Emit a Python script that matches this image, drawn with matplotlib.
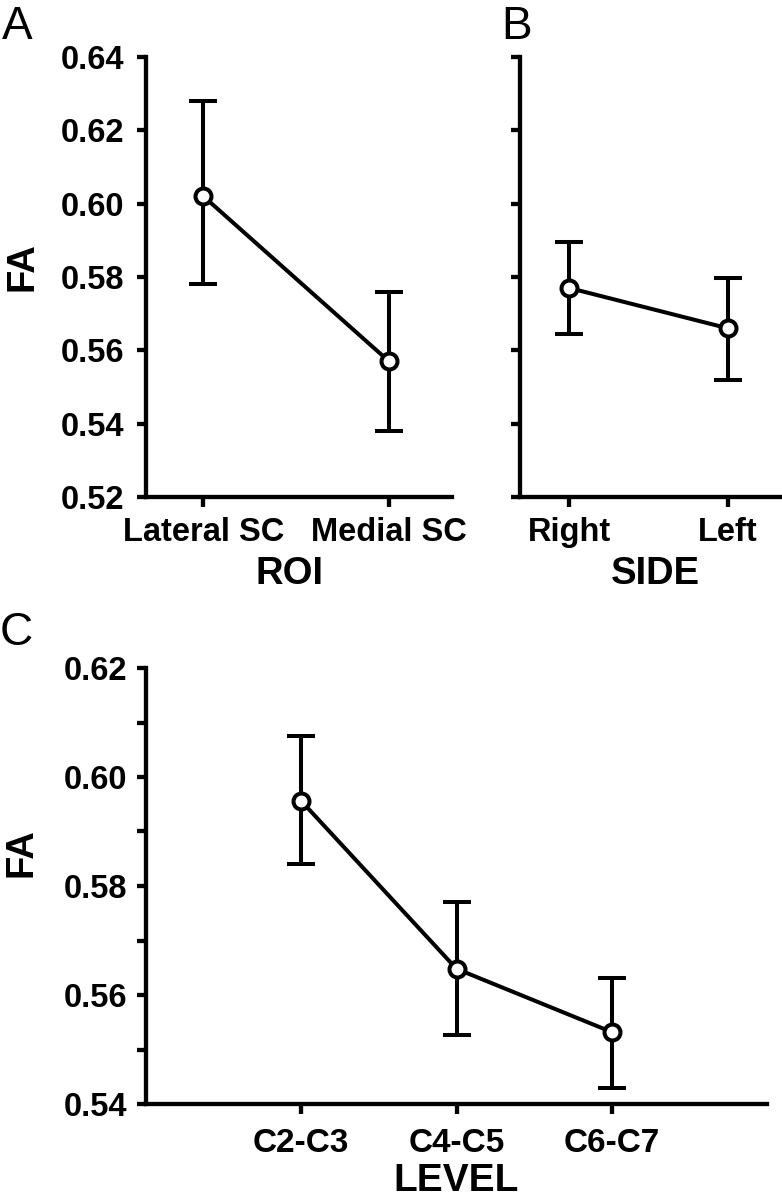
import matplotlib
matplotlib.use("Agg")
import matplotlib.pyplot as plt
from matplotlib import font_manager as fm
from matplotlib.ticker import MultipleLocator

# ---------------- data ----------------
roi_cats = ["Lateral SC", "Medial SC"]
roi_mean = [0.602, 0.557]
roi_upper = [0.628, 0.576]
roi_lower = [0.578, 0.538]

side_cats = ["Right", "Left"]
side_mean = [0.577, 0.566]
side_upper = [0.5895, 0.5797]
side_lower = [0.5645, 0.5520]

level_cats = ["C2-C3", "C4-C5", "C6-C7"]
level_mean = [0.5956, 0.5648, 0.5532]
level_upper = [0.6075, 0.5770, 0.5631]
level_lower = [0.5840, 0.5527, 0.5430]

ab_yticks = [0.52, 0.54, 0.56, 0.58, 0.60, 0.62, 0.64]
c_yticks = [0.54, 0.56, 0.58, 0.60, 0.62]

# ---------------- fonts ----------------
names = {f.name for f in fm.fontManager.ttflist}
SANS = "Liberation Sans" if "Liberation Sans" in names else "DejaVu Sans"
plt.rcParams["font.family"] = [SANS, "DejaVu Sans"]

W, H = 782, 1200
fig = plt.figure(figsize=(W / 100, H / 100), dpi=100)


def ax_px(l, r, top, bot):
    return fig.add_axes([l / W, 1 - bot / H, (r - l) / W, (bot - top) / H])


LW = 2.9
SPW = 3.1
TICKFS = 23.5
LABFS = 27.5


def style(ax):
    for s in ("top", "right"):
        ax.spines[s].set_visible(False)
    for s in ("left", "bottom"):
        ax.spines[s].set_linewidth(SPW)
    ax.tick_params(axis="both", which="both", direction="out", width=SPW, color="black")
    ax.tick_params(axis="y", which="both", length=6.5)
    ax.tick_params(axis="x", which="major", length=7.5)
    ax.patch.set_alpha(0)


def draw(ax, mean, upper, lower):
    x = list(range(len(mean)))
    yerr = [[m - l for m, l in zip(mean, lower)], [u - m for u, m in zip(upper, mean)]]
    ax.errorbar(x, mean, yerr=yerr, fmt="none", ecolor="black", elinewidth=LW,
                capsize=10, capthick=LW, zorder=2, clip_on=False)
    ax.plot(x, mean, color="black", lw=LW, zorder=3, clip_on=False)
    ax.plot(x, mean, "o", ms=11.5, mfc="white", mec="black", mew=2.9, zorder=4, clip_on=False)


# ---------------- Panel A ----------------
axA = ax_px(146, 452, 57, 497)
style(axA)
draw(axA, roi_mean, roi_upper, roi_lower)
axA.set_xlim(-0.31, 1.34)
axA.set_ylim(0.52, 0.64)
axA.set_yticks(ab_yticks)
axA.set_yticklabels([f"{v:.2f}" for v in ab_yticks], fontsize=TICKFS, fontweight="bold")
axA.set_xticks(range(len(roi_cats)))
axA.set_xticklabels(roi_cats, fontsize=TICKFS, fontweight="bold")
axA.tick_params(axis="x", pad=7)
axA.tick_params(axis="y", pad=9)
axA.set_xlabel("ROI", fontsize=LABFS, fontweight="bold")
axA.xaxis.set_label_coords((290 - 146) / 306, -(592 - 497) / 440)
axA.xaxis.label.set_va("bottom")
axA.set_ylabel("FA", fontsize=LABFS, fontweight="bold")
axA.yaxis.set_label_coords((40 - 146) / 306, (497 - 267) / 440)

# ---------------- Panel B ----------------
axB = ax_px(520, 782, 57, 497)
style(axB)
draw(axB, side_mean, side_upper, side_lower)
axB.set_xlim(-0.31, 1.34)
axB.set_ylim(0.52, 0.64)
axB.set_yticks(ab_yticks)
axB.set_yticklabels([])
axB.set_xticks(range(len(side_cats)))
axB.set_xticklabels(side_cats, fontsize=TICKFS, fontweight="bold")
axB.tick_params(axis="x", pad=7)
axB.set_xlabel("SIDE", fontsize=LABFS, fontweight="bold")
axB.xaxis.set_label_coords((655 - 520) / 262, -(592 - 497) / 440)
axB.xaxis.label.set_va("bottom")

# ---------------- Panel C ----------------
axC = ax_px(146, 767, 668, 1104)
style(axC)
draw(axC, level_mean, level_upper, level_lower)
axC.set_xlim(-1, 3)
axC.set_ylim(0.54, 0.62)
axC.set_yticks(c_yticks)
axC.yaxis.set_minor_locator(MultipleLocator(0.01))
axC.set_yticklabels([f"{v:.2f}" for v in c_yticks], fontsize=TICKFS, fontweight="bold")
axC.set_xticks(range(len(level_cats)))
axC.set_xticklabels(level_cats, fontsize=24, fontweight="bold")
axC.tick_params(axis="x", pad=10)
axC.tick_params(axis="y", pad=7)
axC.set_xlabel("LEVEL", fontsize=28, fontweight="bold")
axC.xaxis.set_label_coords(0.5, -(1199 - 1104) / 436)
axC.xaxis.label.set_va("bottom")
axC.set_ylabel("FA", fontsize=LABFS, fontweight="bold")
axC.yaxis.set_label_coords((40 - 146) / 621, (1104 - 853) / 436)

# panel letters
fig.text(2 / W, 1 - 5 / H, "A", fontsize=33, va="top", ha="left")
fig.text(501 / W, 1 - 5 / H, "B", fontsize=33, va="top", ha="left")
fig.text(0 / W, 1 - 611 / H, "C", fontsize=33, va="top", ha="left")

fig.savefig("out.png", dpi=100)
